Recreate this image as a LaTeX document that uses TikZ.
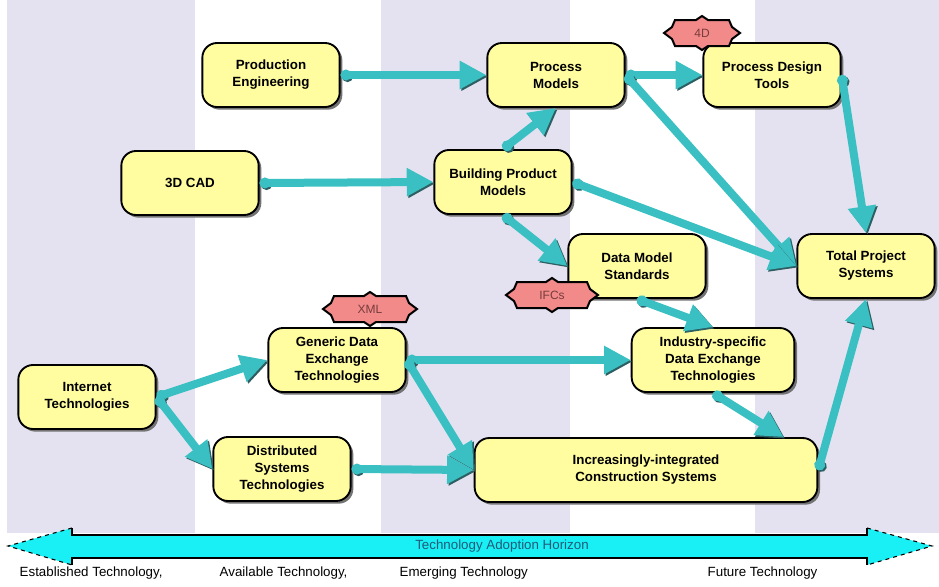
\documentclass[tikz,border=0pt]{standalone}
\usepackage{fontspec}
\setmainfont{Liberation Sans}
\usetikzlibrary{arrows.meta,shadows}
\definecolor{lav}{RGB}{228,226,240}
\definecolor{boxfill}{RGB}{255,253,160}
\definecolor{flowc}{RGB}{58,192,194}
\definecolor{flowshadow}{RGB}{45,95,98}
\definecolor{tagfill}{RGB}{242,138,138}
\definecolor{tagtext}{RGB}{120,60,60}
\definecolor{horizon}{RGB}{25,240,245}
\definecolor{horizontext}{RGB}{30,90,120}
\tikzset{
	main node/.style={draw=black,line width=1.4pt,fill=boxfill,rounded corners=11pt,
		minimum width=103pt,minimum height=48pt,align=center,
		font=\fontsize{10}{12.75}\selectfont\bfseries,
		drop shadow={shadow xshift=2pt,shadow yshift=-2pt,fill=black!55,opacity=1}},
	flow/.style={draw=flowc,line width=6pt,{Circle[length=8pt]}-{Triangle[length=20pt,width=20pt]},
		preaction={draw=flowshadow,transform canvas={shift={(1.2pt,-1.2pt)}}}},
	tag/.style={font=\fontsize{9}{10}\selectfont,text=tagtext,inner sep=0pt},
	tagline/.style={draw=black,line width=1.5pt,fill=tagfill,line join=miter},
	era/.style={font=\fontsize{10}{12}\selectfont,anchor=west}
}
% name, centre, flat part of the edge, text
\newcommand\tagbox[4]{%
	\filldraw[tagline] (#2) ++(-17-#3,0) -- ++(8,-6) -- ++(3,-7) -- ++(#3,0) -- ++(6,-4) -- ++(6,4)
		-- ++(#3,0) -- ++(3,7) -- ++(8,6) -- ++(-8,6) -- ++(-3,7) -- ++(-#3,0) -- ++(-6,4)
		-- ++(-6,-4) -- ++(-#3,0) -- ++(-3,-7) -- cycle;
	\node[tag] (#1) at (#2) {#4};}

\begin{document}
\begin{tikzpicture}[x=0.75pt,y=-0.75pt]
	\useasboundingbox (0,0) rectangle (939,586);
	\fill[lav] (7,0) rectangle (195,533);
	\fill[lav] (381,0) rectangle (570,533);
	\fill[lav] (755,0) rectangle (939,533);

	% horizon arrow
	\fill[horizon] (8,546) -- (72,528) -- (72,535) -- (867,535) -- (867,528) -- (932,546)
		-- (867,565) -- (867,558) -- (72,558) -- (72,565) -- cycle;
	\draw[line width=0.8pt] (72,528) -- (72,535) -- (867,535) -- (867,528)
		(72,565) -- (72,558) -- (867,558) -- (867,565);
	\draw[line width=0.8pt,dashed] (72,528) -- (8,546) -- (72,565) (867,528) -- (932,546) -- (867,565);
	\node[font=\fontsize{10}{12}\selectfont,text=horizontext] (adoption) at (502,546) {Technology Adoption Horizon};

	\node[era] (established) at (15,573) {Established Technology,};
	\node[era] (available) at (215,573) {Available Technology,};
	\node[era] (emerging) at (395,573) {Emerging Technology};
	\node[era] (future) at (703,573) {Future Technology};

	\node [main node] (pe) at (271,75) {Production\\Engineering};
	\node [main node] (cad) at (190,183) {3D CAD};
	\node [main node] (pm) at (556,75) {Process\\Models};
	\node [main node] (pdt) at (772,75) {Process Design\\Tools};
	\node [main node] (bpm) at (503,182) {Building Product\\Models};
	\node [main node] (dms) at (637,266) {Data Model\\Standards};
	\node [main node] (tps) at (866,266) {Total Project\\Systems};
	\node [main node] (gdet) at (337,360) {Generic Data\\Exchange\\Technologies};
	\node [main node] (it) at (87,397) {Internet\\Technologies};
	\node [main node] (dst) at (282,469) {Distributed\\Systems\\Technologies};
	\node [main node,minimum width=122pt] (isdet) at (713,360) {Industry-specific\\Data Exchange\\Technologies};
	\node [main node,minimum width=257pt] (ics) at (646,470) {Increasingly-integrated\\Construction Systems};

	\foreach \a/\b in {pe.east/pm.west, cad.east/bpm.west, bpm.north/pm.south, pm.east/pdt.west,
		pm.east/tps.west, bpm.east/tps.west, pdt.east/tps.north, bpm.south/dms.west,
		dms.south/isdet.north, gdet.east/isdet.west, gdet.east/ics.west, it.east/gdet.west,
		it.east/dst.west, dst.east/ics.west, ics.east/tps.south}
		\draw [flow] (\a) -- (\b);
	\draw [flow] (isdet.south) -- ([xshift=-26pt]ics.north east);

	\tagbox{fourd}{702,33}{21}{4D}
	\tagbox{xml}{370,309}{30}{XML}
	\tagbox{ifc}{552,295}{29}{IFCs}
\end{tikzpicture}
\end{document}
